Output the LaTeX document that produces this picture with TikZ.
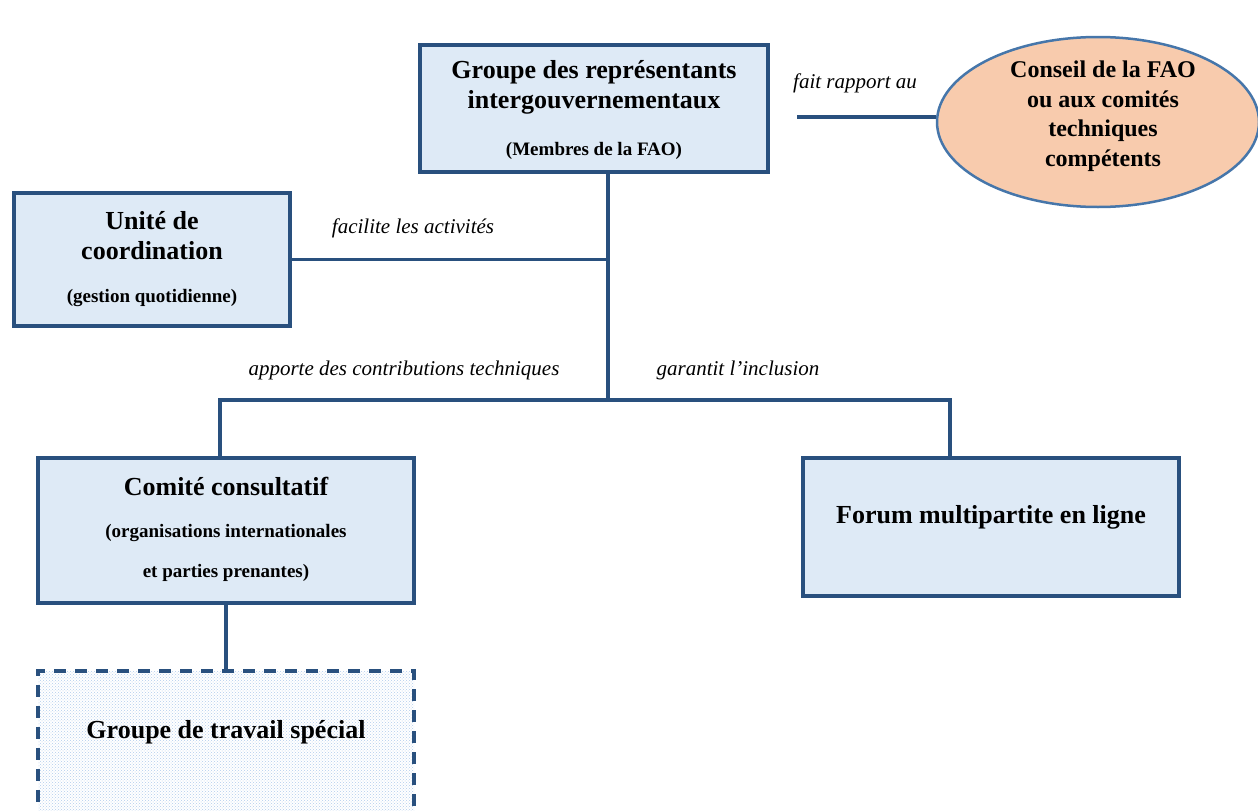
\documentclass[tikz,border=0pt]{standalone}
\usepackage{fontspec}
\setmainfont{Liberation Serif}
\usetikzlibrary{shapes.geometric,patterns}

\definecolor{boxline}{RGB}{41,80,126}
\definecolor{boxfill}{RGB}{222,234,246}
\definecolor{ovalline}{RGB}{70,118,170}
\definecolor{ovalfill}{RGB}{248,203,173}
\definecolor{hatch}{RGB}{178,204,236}

\tikzset{
  orgbox/.style={draw=boxline, line width=3.5pt, fill=boxfill, inner sep=0pt},
  title/.style={font=\bfseries\fontsize{26}{30}\selectfont, align=center, inner sep=0pt},
  subtitle/.style={font=\bfseries\fontsize{19}{40}\selectfont, align=center, inner sep=0pt},
  lbl/.style={font=\itshape\fontsize{21}{24}\selectfont, inner sep=0pt},
  link/.style={draw=boxline, line width=3.5pt}
}

\begin{document}
\begin{tikzpicture}[x=1pt, y=-1pt]
    \useasboundingbox (0,0) rectangle (1258,811);
    \clip (0,0) rectangle (1258,811);

    % Intergovernmental group and the body it reports to
    \node (gri) at (594,108.5) [orgbox, minimum width=348, minimum height=127] {};
    \node at (594,87) [title] {Groupe des représentants\\intergouvernementaux};
    \node at (594,151) [subtitle] {(Membres de la FAO)};

    \node (conseil) at (1098,122) [ellipse, draw=ovalline, line width=2.5pt, fill=ovalfill, minimum width=322, minimum height=170, inner sep=0pt] {};
    \node at (1103,116) [font=\bfseries\fontsize{24}{29.5}\selectfont, align=center] {Conseil de la FAO\\ou aux comités\\techniques\\compétents};

    \coordinate (rapport) at (797,117);
    \draw[link] (rapport) -- (rapport -| conseil.west);
    \node at (855,83) [lbl] {fait rapport au};

    % Coordination unit
    \node (unite) at (152,259.5) [orgbox, minimum width=276, minimum height=133] {};
    \node at (152,236) [title] {Unité de\\coordination};
    \node at (152,298) [subtitle] {(gestion quotidienne)};

    % Trunk
    \coordinate (hub) at (608,400);
    \draw[link] (hub) -- (hub |- gri.south);
    \draw[link] (unite.east) -- (unite.east -| hub);
    \node at (413,228) [lbl] {facilite les activités};

    % Lower level
    \node (comite) at (226,530.5) [orgbox, minimum width=376, minimum height=145] {};
    \node at (226,486) [title] {Comité consultatif};
    \node at (226,553) [subtitle] {(organisations internationales\\et parties prenantes)};

    \node (forum) at (991,527) [orgbox, minimum width=376, minimum height=138] {};
    \node at (991,517) [title] {Forum multipartite en ligne};

    \draw[link] (hub) -| ([xshift=-6]comite.north);
    \draw[link] (hub) -| ([xshift=-41]forum.north);
    \node at (404,370) [lbl] {apporte des contributions techniques};
    \node at (738,370) [lbl] {garantit l’inclusion};

    % Ad hoc working group (dashed, runs off the page)
    \node (gts) at (226,771) [draw=boxline, line width=3.5pt, dash pattern=on 12pt off 9pt, preaction={fill=white}, pattern=crosshatch dots, pattern color=hatch, minimum width=376, minimum height=200, inner sep=0pt] {};
    \node at (226,732) [title] {Groupe de travail spécial};
    \draw[link] (comite.south) -- (gts.north);
\end{tikzpicture}
\end{document}
